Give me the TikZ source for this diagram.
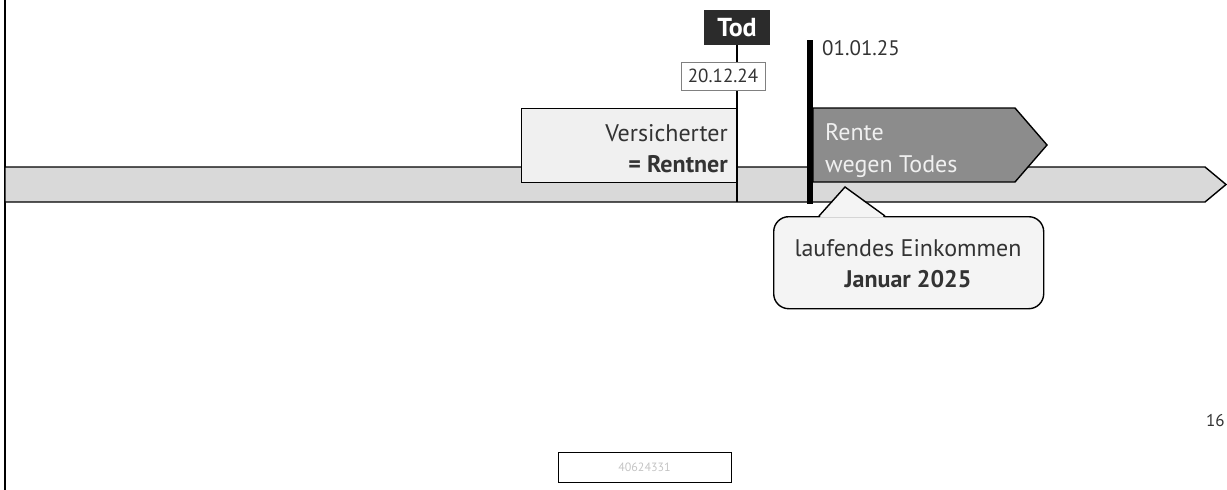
\documentclass[tikz,border=0pt]{standalone}
\usepackage{fontspec}
\setmainfont{PT Sans}
\usetikzlibrary{positioning}
\definecolor{bargray}{HTML}{D9D9D9}
\definecolor{boxlight}{HTML}{F0F0F0}
\definecolor{rentegray}{HTML}{8C8C8C}
\definecolor{todblack}{HTML}{2B2B2B}
\definecolor{textgray}{HTML}{333333}
\definecolor{calloutgray}{HTML}{F4F4F4}
\definecolor{footgray}{HTML}{C4C4C4}
\begin{document}
\begin{tikzpicture}[x=1pt,y=-1pt,
    txt/.style={text=textgray, font=\fontsize{24}{28}\selectfont, inner sep=0pt},
    bold/.style={txt, font=\fontsize{24}{28}\selectfont\bfseries},
    frame/.style={draw=black, line width=1.4pt}]
  \useasboundingbox (0,0) rectangle (1227,490);
  % left rule and time bar
  \draw[line width=2pt] (5,0) -- (5,490);
  \draw[frame, fill=bargray]
    (5,167) -- (1205,167) -- (1226,184.5) -- (1205,202) -- (5,202) -- cycle;
  % insured person
  \node[frame, fill=boxlight, minimum width=216, minimum height=74,
    anchor=north west, inner sep=0pt] (vers) at (521,108) {};
  \node[txt, anchor=base east] (verstop) at (728,141) {Versicherter};
  \node[bold, anchor=base east] (versbot) at (728,172) {= Rentner};
  % death
  \node[fill=todblack, text=white, font=\fontsize{26}{30}\selectfont\bfseries,
    minimum width=66, minimum height=35, inner sep=0pt] (tod) at (737,27.5) {Tod};
  \coordinate (todfoot) at (737,202);
  \draw[line width=2.5pt] (tod.south) -- (todfoot);
  \node[draw=gray, line width=1pt, fill=white, txt, font=\fontsize{19}{22}\selectfont,
    minimum width=84, minimum height=28] (datum) at (723,76) {20.12.24};
  % pension start
  \draw[frame, fill=rentegray]
    (813,108) -- (1015,108) -- (1047,145) -- (1015,182) -- (813,182) -- cycle;
  \node[txt, text=white!94!black, anchor=base west] (rente) at (825,140) {Rente};
  \node[txt, text=white!94!black, anchor=base west] (wegen) at (825,172) {wegen Todes};
  \coordinate (neutop) at (810,40);
  \coordinate (neufoot) at (810,204);
  \draw[line width=6pt] (neutop) -- (neufoot);
  \node[txt, font=\fontsize{21}{24}\selectfont, anchor=north west] (neudatum) at (822,40) {01.01.25};
  % callout
  \node[frame, fill=calloutgray, rounded corners=15, minimum width=270,
    minimum height=92, anchor=north west, inner sep=0pt] (einkommen) at (773,216) {};
  \fill[calloutgray] (819.5,217.6) -- (845,187) -- (884.5,217.6) -- cycle;
  \draw[line width=1.4pt] (819,216) -- (845,187) -- (885,216);
  \node[txt, anchor=base] (lauf) at (908,256) {laufendes Einkommen};
  \node[bold, anchor=base] (januar) at (908,287) {Januar 2025};
  % footer
  \node[draw=black, line width=1pt, minimum width=173, minimum height=30,
    text=footgray, font=\fontsize{12}{14}\selectfont, inner sep=0pt] (nummer) at (644.5,467) {40624331};
  \node[txt, font=\fontsize{17}{20}\selectfont, anchor=base west] (seite) at (1206,426) {16};
\end{tikzpicture}
\end{document}
